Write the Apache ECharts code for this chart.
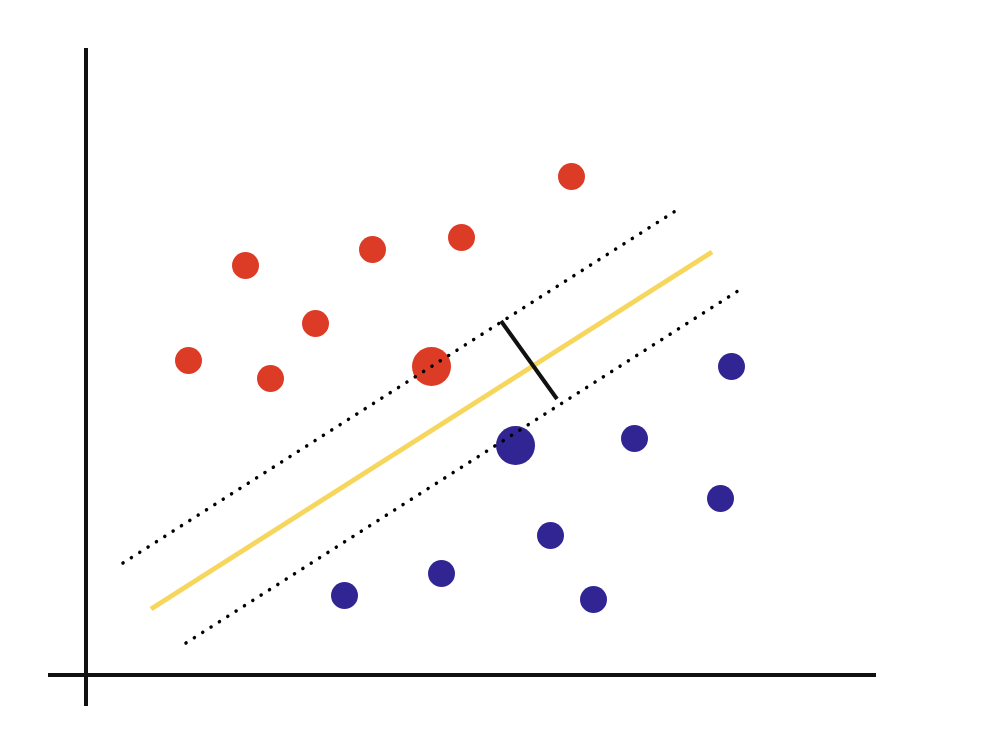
<!DOCTYPE html>
<html>
<head>
<meta charset="utf-8">
<script src="https://cdn.jsdelivr.net/npm/echarts@6/dist/echarts.min.js"></script>
<style>html,body{margin:0;padding:0;background:#fff}#c{width:992px;height:744px}</style>
</head>
<body>
<div id="c"></div>
<script>
// Data (chart units)
var redPoints = [[48.55,49.85],[15.95,40.95],[28.65,42.55],[37.55,43.75],[22.95,35.15],[10.25,31.45],[18.45,29.65]];
var redSupport = [[34.55,30.85]];
var bluePoints = [[64.55,30.85],[54.85,23.65],[63.45,17.65],[46.45,13.95],[35.55,10.15],[25.85,7.95],[50.75,7.55]];
var blueSupport = [[42.95,22.95]];
var boundaryLine = [[6.5,6.6],[62.6,42.3]];
var upperMargin = [[3.7,11.2],[59.1,46.5]];
var lowerMargin = [[10.0,3.2],[65.5,38.6]];
var marginSegment = [[41.5,35.4],[47.1,27.6]];
var xAxisLine = [[-3.8,0],[79,0]];
var yAxisLine = [[0,-3.1],[0,62.7]];

var chart = echarts.init(document.getElementById('c'));
function line(data, color, width, type, z, cap) {
  return {type:'line', data:data, symbol:'none', silent:true, z:z, animation:false,
    lineStyle:{color:color, width:width, type:type||'solid', cap:cap||'butt'}};
}
chart.setOption({
  animation:false,
  backgroundColor:'#fff',
  grid:{left:48, right:116, top:48, bottom:38},
  xAxis:{type:'value', min:-3.8, max:79, show:false},
  yAxis:{type:'value', min:-3.1, max:62.7, show:false},
  series:[
    line(xAxisLine,'#111',4,'solid',1),
    line(yAxisLine,'#111',4,'solid',1),
    {type:'scatter', data:redPoints, symbolSize:27, itemStyle:{color:'#dc3b26', opacity:1}, z:2},
    {type:'scatter', data:redSupport, symbolSize:39, itemStyle:{color:'#dc3b26', opacity:1}, z:2},
    {type:'scatter', data:bluePoints, symbolSize:27, itemStyle:{color:'#312594', opacity:1}, z:2},
    {type:'scatter', data:blueSupport, symbolSize:39, itemStyle:{color:'#312594', opacity:1}, z:2},
    line(boundaryLine,'#f6d65c',5,'solid',3),
    line(upperMargin,'#000',3.5,[0.1,9.8],4,'round'),
    line(lowerMargin,'#000',3.5,[0.1,9.8],4,'round'),
    line(marginSegment,'#111',4,'solid',4)
  ]
});
</script>
</body>
</html>
